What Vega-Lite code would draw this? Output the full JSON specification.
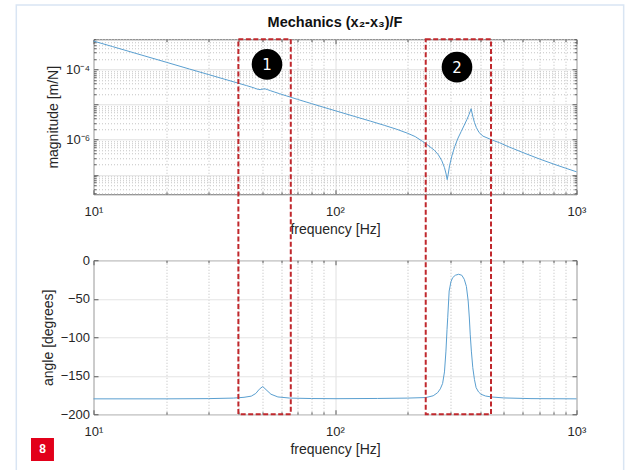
{
  "$schema": "https://vega.github.io/schema/vega-lite/v6.json",
  "background": "white",
  "padding": {"left": 14.5, "top": 3.25, "right": 2, "bottom": 0},
  "bounds": "flush",
  "spacing": 66,
  "config": {
    "font": "Liberation Sans",
    "view": {"stroke": "#707070", "strokeWidth": 1},
    "axis": {
      "labelFont": "Liberation Sans",
      "labelFontSize": 13,
      "labelColor": "#262626",
      "labelFlush": false,
      "labelOverlap": false,
      "titleFont": "Liberation Sans",
      "titleFontSize": 14,
      "titleFontWeight": "normal",
      "titleColor": "#262626",
      "domain": false,
      "tickColor": "#5a5a5a",
      "tickWidth": 1,
      "gridColor": "#e0e0e0",
      "gridWidth": 1
    },
    "title": {"font": "Liberation Sans", "fontSize": 14.5, "fontWeight": "bold", "color": "#111111", "offset": 8}
  },
  "datasets": {
    "mag": [
      {"f": 10, "m": 6.4e-4}, {"f": 12, "m": 4.45e-4}, {"f": 15, "m": 2.84e-4}, {"f": 20, "m": 1.6e-4},
      {"f": 25, "m": 1.02e-4}, {"f": 30, "m": 7.1e-5}, {"f": 35, "m": 5.22e-5}, {"f": 40, "m": 4.0e-5},
      {"f": 43, "m": 3.46e-5}, {"f": 45, "m": 3.15e-5}, {"f": 46.5, "m": 2.92e-5}, {"f": 47.5, "m": 2.77e-5},
      {"f": 48.3, "m": 2.68e-5}, {"f": 49, "m": 2.66e-5}, {"f": 49.8, "m": 2.72e-5}, {"f": 50.6, "m": 2.79e-5},
      {"f": 51.4, "m": 2.78e-5}, {"f": 52.5, "m": 2.66e-5}, {"f": 54, "m": 2.48e-5}, {"f": 56, "m": 2.28e-5},
      {"f": 59, "m": 2.03e-5}, {"f": 63, "m": 1.76e-5}, {"f": 70, "m": 1.4e-5}, {"f": 80, "m": 1.06e-5},
      {"f": 90, "m": 8.3e-6}, {"f": 100, "m": 6.7e-6}, {"f": 120, "m": 4.62e-6}, {"f": 140, "m": 3.38e-6},
      {"f": 160, "m": 2.56e-6}, {"f": 180, "m": 1.98e-6}, {"f": 200, "m": 1.52e-6}, {"f": 215, "m": 1.22e-6},
      {"f": 230, "m": 9.0e-7}, {"f": 245, "m": 6.6e-7}, {"f": 258, "m": 5.0e-7}, {"f": 268, "m": 3.7e-7},
      {"f": 277, "m": 2.5e-7}, {"f": 284, "m": 1.6e-7}, {"f": 288.5, "m": 1.05e-7}, {"f": 291.5, "m": 7.3e-8},
      {"f": 294, "m": 1.0e-7}, {"f": 298, "m": 1.8e-7}, {"f": 305, "m": 3.5e-7}, {"f": 313, "m": 6.3e-7},
      {"f": 322, "m": 1.05e-6}, {"f": 333, "m": 1.7e-6}, {"f": 343, "m": 2.6e-6}, {"f": 352, "m": 3.8e-6},
      {"f": 359, "m": 5.2e-6}, {"f": 363.5, "m": 6.6e-6}, {"f": 366, "m": 7.6e-6}, {"f": 369, "m": 6.0e-6},
      {"f": 373, "m": 4.3e-6}, {"f": 378, "m": 3.1e-6}, {"f": 385, "m": 2.2e-6}, {"f": 395, "m": 1.6e-6},
      {"f": 410, "m": 1.26e-6}, {"f": 430, "m": 1.1e-6}, {"f": 450, "m": 9.6e-7}, {"f": 480, "m": 8.2e-7},
      {"f": 520, "m": 6.4e-7}, {"f": 600, "m": 4.3e-7}, {"f": 700, "m": 2.85e-7}, {"f": 800, "m": 2.05e-7},
      {"f": 900, "m": 1.55e-7}, {"f": 1000, "m": 1.22e-7}
    ],
    "phase": [
      {"f": 10, "deg": -180}, {"f": 20, "deg": -180}, {"f": 30, "deg": -179.7}, {"f": 38, "deg": -179},
      {"f": 42, "deg": -178}, {"f": 45, "deg": -176.5}, {"f": 47, "deg": -173}, {"f": 48.6, "deg": -167.5},
      {"f": 50.2, "deg": -164}, {"f": 51.8, "deg": -168}, {"f": 54.3, "deg": -174}, {"f": 58, "deg": -177.5},
      {"f": 65, "deg": -179}, {"f": 80, "deg": -179.6}, {"f": 100, "deg": -179.8}, {"f": 150, "deg": -179.5},
      {"f": 200, "deg": -179}, {"f": 238, "deg": -178.3}, {"f": 255, "deg": -176}, {"f": 266, "deg": -172},
      {"f": 273, "deg": -167}, {"f": 279, "deg": -160}, {"f": 284, "deg": -145}, {"f": 288, "deg": -118},
      {"f": 291, "deg": -90}, {"f": 293, "deg": -74}, {"f": 297, "deg": -40}, {"f": 302, "deg": -28},
      {"f": 307, "deg": -22.6}, {"f": 315, "deg": -19.5}, {"f": 325, "deg": -18.2}, {"f": 335, "deg": -19.5},
      {"f": 343, "deg": -24.7}, {"f": 350, "deg": -34}, {"f": 356, "deg": -53}, {"f": 360, "deg": -75},
      {"f": 363, "deg": -96}, {"f": 367, "deg": -118}, {"f": 372, "deg": -139.5}, {"f": 378, "deg": -155},
      {"f": 384, "deg": -165.5}, {"f": 393, "deg": -171}, {"f": 402, "deg": -174}, {"f": 420, "deg": -176.3},
      {"f": 443, "deg": -177.5}, {"f": 500, "deg": -178.8}, {"f": 648, "deg": -179.7}, {"f": 1000, "deg": -180}
    ],
    "circles": [
      {"f": 52.3, "m": 1.39e-4, "n": "1"},
      {"f": 320, "m": 1.16e-4, "n": "2"}
    ],
    "boxes": [
      {"f1": 39.8, "f2": 65.6, "lo": -200, "hi": 287},
      {"f1": 237.5, "f2": 442.6, "lo": -200, "hi": 287}
    ],
    "frame": [
      {"f1": 4.79, "f2": 1568, "lo": -280, "hi": 331.6}
    ],
    "badge": [
      {"f1": 5.51, "f2": 6.86, "lo": -260.6, "hi": -230.8, "fc": 6.15, "yc": -245.7, "label": "8"}
    ]
  },
  "vconcat": [
    {
      "width": 483,
      "height": 155,
      "title": {"text": "Mechanics (x₂-x₃)/F"},
      "resolve": {"axis": {"x": "independent", "y": "independent"}},
      "layer": [
        {
          "data": {"name": "mag"},
          "mark": {"type": "line", "opacity": 0},
          "encoding": {
            "x": {"field": "f", "type": "quantitative",
              "scale": {"type": "log", "domain": [10, 1000], "nice": false},
              "axis": {"orient": "top", "offset": -155, "values": [20, 30, 40, 50, 60, 70, 80, 90, 200, 300, 400, 500, 600, 700, 800, 900],
                "labels": false, "title": null, "grid": true, "gridDash": [1, 2], "gridColor": "#bdbdbd", "ticks": true, "tickSize": 2.5}},
            "y": {"field": "m", "type": "quantitative",
              "scale": {"type": "log", "domain": [2.8e-8, 7.2e-4], "nice": false},
              "axis": {"orient": "right", "offset": -483,
                "values": [3e-8, 4e-8, 5e-8, 6e-8, 7e-8, 8e-8, 9e-8, 2e-7, 3e-7, 4e-7, 5e-7, 6e-7, 7e-7, 8e-7, 9e-7, 2e-6, 3e-6, 4e-6, 5e-6, 6e-6, 7e-6, 8e-6, 9e-6, 2e-5, 3e-5, 4e-5, 5e-5, 6e-5, 7e-5, 8e-5, 9e-5, 2e-4, 3e-4, 4e-4, 5e-4, 6e-4, 7e-4],
                "labels": false, "title": null, "grid": true, "gridDash": [1, 2], "gridColor": "#c4c4c4", "ticks": true, "tickSize": 2.5}}
          }
        },
        {
          "data": {"name": "mag"},
          "mark": {"type": "line", "color": "#5a9fd0", "strokeWidth": 1},
          "encoding": {
            "x": {"field": "f", "type": "quantitative",
              "scale": {"type": "log", "domain": [10, 1000], "nice": false},
              "axis": {"orient": "bottom", "values": [10, 100, 1000],
                "labelExpr": "datum.value < 50 ? '10¹' : datum.value < 500 ? '10²' : '10³'",
                "title": "frequency [Hz]", "grid": true, "ticks": false, "labelPadding": 11.5, "titlePadding": 4}},
            "y": {"field": "m", "type": "quantitative",
              "scale": {"type": "log", "domain": [2.8e-8, 7.2e-4], "nice": false},
              "axis": {"orient": "left", "values": [1e-7, 1e-6, 1e-5, 1e-4],
                "labelExpr": "datum.value > 5e-5 ? '10⁻⁴' : (datum.value > 5e-7 && datum.value < 5e-6) ? '10⁻⁶' : ''",
                "title": "magnitude [m/N]", "grid": true, "ticks": false, "labelPadding": 4, "titlePadding": 4.5}}
          }
        },
        {
          "data": {"name": "circles"},
          "mark": {"type": "point", "shape": "circle", "filled": true, "color": "#000000", "opacity": 1, "size": 940},
          "encoding": {
            "x": {"field": "f", "type": "quantitative",
              "scale": {"type": "log", "domain": [10, 1000], "nice": false},
              "axis": {"orient": "bottom", "offset": -155, "values": [10, 100, 1000], "labels": false, "title": null, "grid": false, "ticks": true, "tickSize": 4.5}},
            "y": {"field": "m", "type": "quantitative",
              "scale": {"type": "log", "domain": [2.8e-8, 7.2e-4], "nice": false},
              "axis": {"orient": "left", "offset": -483, "values": [1e-7, 1e-6, 1e-5, 1e-4], "labels": false, "title": null, "grid": false, "ticks": true, "tickSize": 4.5}}
          }
        },
        {
          "data": {"name": "circles"},
          "mark": {"type": "text", "color": "#ffffff", "font": "DejaVu Sans", "fontSize": 15, "align": "center", "baseline": "middle", "dy": 0.5},
          "encoding": {
            "x": {"field": "f", "type": "quantitative",
              "scale": {"type": "log", "domain": [10, 1000], "nice": false},
              "axis": {"orient": "top", "offset": -155, "values": [10, 100, 1000], "labels": false, "title": null, "grid": false, "ticks": true, "tickSize": 4.5}},
            "y": {"field": "m", "type": "quantitative",
              "scale": {"type": "log", "domain": [2.8e-8, 7.2e-4], "nice": false},
              "axis": {"orient": "right", "offset": -483, "values": [1e-7, 1e-6, 1e-5, 1e-4], "labels": false, "title": null, "grid": false, "ticks": true, "tickSize": 4.5}},
            "text": {"field": "n"}
          }
        },
        {
          "data": {"name": "mag"},
          "mark": {"type": "line", "opacity": 0},
          "encoding": {
            "x": {"field": "f", "type": "quantitative",
              "scale": {"type": "log", "domain": [10, 1000], "nice": false},
              "axis": {"orient": "bottom", "offset": -155, "values": [20, 30, 40, 50, 60, 70, 80, 90, 200, 300, 400, 500, 600, 700, 800, 900],
                "labels": false, "title": null, "grid": false, "ticks": true, "tickSize": 2.5}},
            "y": {"field": "m", "type": "quantitative",
              "scale": {"type": "log", "domain": [2.8e-8, 7.2e-4], "nice": false},
              "axis": {"orient": "left", "offset": -483,
                "values": [3e-8, 4e-8, 5e-8, 6e-8, 7e-8, 8e-8, 9e-8, 2e-7, 3e-7, 4e-7, 5e-7, 6e-7, 7e-7, 8e-7, 9e-7, 2e-6, 3e-6, 4e-6, 5e-6, 6e-6, 7e-6, 8e-6, 9e-6, 2e-5, 3e-5, 4e-5, 5e-5, 6e-5, 7e-5, 8e-5, 9e-5, 2e-4, 3e-4, 4e-4, 5e-4, 6e-4, 7e-4],
                "labels": false, "title": null, "grid": false, "ticks": true, "tickSize": 2.5}}
          }
        }
      ]
    },
    {
      "width": 483,
      "height": 154,
      "resolve": {"axis": {"x": "independent", "y": "independent"}},
      "layer": [
        {
          "data": {"name": "phase"},
          "mark": {"type": "line", "opacity": 0},
          "encoding": {
            "x": {"field": "f", "type": "quantitative",
              "scale": {"type": "log", "domain": [10, 1000], "nice": false},
              "axis": {"orient": "top", "offset": -154, "values": [20, 30, 40, 50, 60, 70, 80, 90, 200, 300, 400, 500, 600, 700, 800, 900],
                "labels": false, "title": null, "grid": true, "gridDash": [1, 2], "gridColor": "#bdbdbd", "ticks": true, "tickSize": 2.5}},
            "y": {"field": "deg", "type": "quantitative",
              "scale": {"domain": [-200, 0], "nice": false, "zero": false},
              "axis": null}
          }
        },
        {
          "data": {"name": "phase"},
          "mark": {"type": "line", "color": "#5a9fd0", "strokeWidth": 1},
          "encoding": {
            "x": {"field": "f", "type": "quantitative",
              "scale": {"type": "log", "domain": [10, 1000], "nice": false},
              "axis": {"orient": "bottom", "values": [10, 100, 1000],
                "labelExpr": "datum.value < 50 ? '10¹' : datum.value < 500 ? '10²' : '10³'",
                "title": "frequency [Hz]", "grid": true, "ticks": false, "labelPadding": 11.5, "titlePadding": 4}},
            "y": {"field": "deg", "type": "quantitative",
              "scale": {"domain": [-200, 0], "nice": false, "zero": false},
              "axis": {"orient": "left", "values": [-200, -150, -100, -50, 0],
                "title": "angle [degrees]", "grid": true, "gridColor": "#e4e4e4", "ticks": false, "labelPadding": 4, "titlePadding": 4.5}}
          }
        },
        {
          "data": {"name": "boxes"},
          "mark": {"type": "rect", "filled": false, "color": "#c0282d", "strokeWidth": 2, "strokeDash": [5, 2.5]},
          "encoding": {
            "x": {"field": "f1", "type": "quantitative",
              "scale": {"type": "log", "domain": [10, 1000], "nice": false},
              "axis": {"orient": "bottom", "offset": -154, "values": [10, 100, 1000], "labels": false, "title": null, "grid": false, "ticks": true, "tickSize": 4.5}},
            "x2": {"field": "f2"},
            "y": {"field": "lo", "type": "quantitative",
              "scale": {"domain": [-200, 0], "nice": false, "zero": false},
              "axis": {"orient": "left", "offset": -483, "values": [-200, -150, -100, -50, 0], "labels": false, "title": null, "grid": false, "ticks": true, "tickSize": 4.5}},
            "y2": {"field": "hi"}
          }
        },
        {
          "data": {"name": "frame"},
          "mark": {"type": "rect", "filled": false, "color": "#d9e5f3", "strokeWidth": 1.5},
          "encoding": {
            "x": {"field": "f1", "type": "quantitative",
              "scale": {"type": "log", "domain": [10, 1000], "nice": false},
              "axis": {"orient": "top", "offset": -154, "values": [10, 100, 1000], "labels": false, "title": null, "grid": false, "ticks": true, "tickSize": 4.5}},
            "x2": {"field": "f2"},
            "y": {"field": "lo", "type": "quantitative",
              "scale": {"domain": [-200, 0], "nice": false, "zero": false},
              "axis": {"orient": "right", "offset": -483, "values": [-200, -150, -100, -50, 0], "labels": false, "title": null, "grid": false, "ticks": true, "tickSize": 4.5}},
            "y2": {"field": "hi"}
          }
        },
        {
          "data": {"name": "badge"},
          "mark": {"type": "rect", "color": "#e2001a"},
          "encoding": {
            "x": {"field": "f1", "type": "quantitative",
              "scale": {"type": "log", "domain": [10, 1000], "nice": false},
              "axis": {"orient": "bottom", "offset": -154, "values": [20, 30, 40, 50, 60, 70, 80, 90, 200, 300, 400, 500, 600, 700, 800, 900], "labels": false, "title": null, "grid": false, "ticks": true, "tickSize": 2.5}},
            "x2": {"field": "f2"},
            "y": {"field": "lo", "type": "quantitative",
              "scale": {"domain": [-200, 0], "nice": false, "zero": false}, "axis": null},
            "y2": {"field": "hi"}
          }
        },
        {
          "data": {"name": "badge"},
          "mark": {"type": "text", "color": "#ffffff", "font": "Liberation Sans", "fontWeight": "bold", "fontSize": 12, "align": "center", "baseline": "middle"},
          "encoding": {
            "x": {"field": "fc", "type": "quantitative",
              "scale": {"type": "log", "domain": [10, 1000], "nice": false}, "axis": null},
            "y": {"field": "yc", "type": "quantitative",
              "scale": {"domain": [-200, 0], "nice": false, "zero": false}, "axis": null},
            "text": {"field": "label"}
          }
        }
      ]
    }
  ]
}
